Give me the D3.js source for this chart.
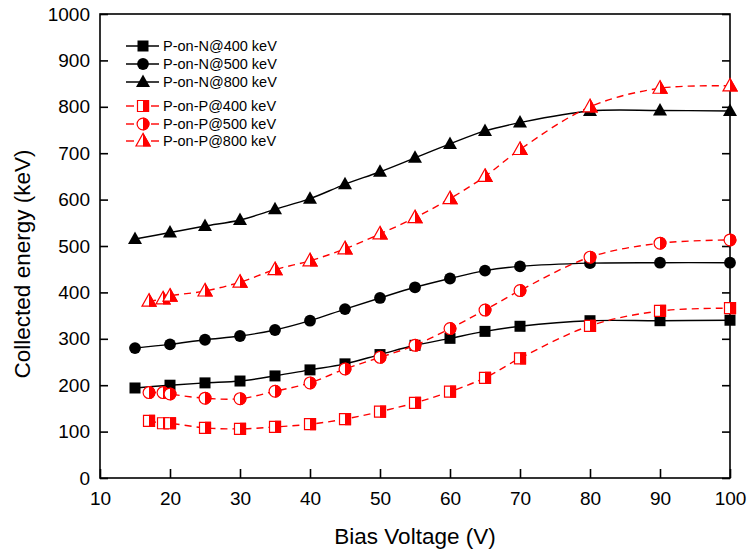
<!DOCTYPE html>
<html><head><meta charset="utf-8">
<script src="https://cdn.jsdelivr.net/npm/d3@7"></script>
<style>body{margin:0;background:#fff}svg{display:block;font-family:"Liberation Sans",Arial,sans-serif}</style>
</head><body><svg id="c" width="748" height="552"></svg>
<script>
const xN = [15,20,25,30,35,40,45,50,55,60,65,70,80,90,100];
const xP = [17,19,20,25,30,35,40,45,50,55,60,65,70,80,90,100];
const pn400 = [194,200,205,209,220,233,246,266,286,301,316,327,339,339,340];
const pn500 = [280,288,298,306,319,339,364,388,411,430,447,456,463,464,464];
const pn800 = [515,529,543,556,579,602,633,660,690,720,748,766,791,792,791];
const pp400 = [123,118,118,108,106,110,116,127,143,162,186,216,258,328,360,366];
const pp500 = [184,184,181,172,171,187,205,235,260,286,322,362,404,476,506,513];
const pp800 = [381,386,392,403,422,449,468,494,526,561,602,650,708,800,840,845];
const names = ["P-on-N@400 keV","P-on-N@500 keV","P-on-N@800 keV","P-on-P@400 keV","P-on-P@500 keV","P-on-P@800 keV"];
const xTicks = [10,20,30,40,50,60,70,80,90,100];
const yTicks = [0,100,200,300,400,500,600,700,800,900,1000];

const svg = d3.select("#c");
const L=100,R=730,T=14,B=478;
const x = d3.scaleLinear().domain([10,100]).range([L,R]);
const y = d3.scaleLinear().domain([0,1000]).range([B,T]);

const series = [
 {name:names[0], xs:xN, ys:pn400, shape:"square", red:false},
 {name:names[1], xs:xN, ys:pn500, shape:"circle", red:false},
 {name:names[2], xs:xN, ys:pn800, shape:"triangle", red:false},
 {name:names[3], xs:xP, ys:pp400, shape:"square", red:true},
 {name:names[4], xs:xP, ys:pp500, shape:"circle", red:true},
 {name:names[5], xs:xP, ys:pp800, shape:"triangle", red:true}
];

const defs = svg.append("defs");
defs.append("clipPath").attr("id","rh").append("rect").attr("x",0).attr("y",-20).attr("width",20).attr("height",40);

function marker(g, shape, red){
  const s = 11;
  let d;
  if(shape==="square") d = `M${-s/2},${-s/2}h${s}v${s}h${-s}Z`;
  else if(shape==="circle") d = d3.symbol(d3.symbolCircle, Math.PI*(s/2+0.4)*(s/2+0.4))();
  else { const h=12.5, w=14; d = `M0,${-h*0.6}L${w/2},${h*0.4}L${-w/2},${h*0.4}Z`; }
  if(!red){
    g.append("path").attr("d",d).attr("fill","#000");
  } else {
    g.append("path").attr("d",d).attr("fill","#fff").attr("stroke","#f00").attr("stroke-width",1.2);
    g.append("path").attr("d",d).attr("fill","#f00").attr("stroke","#f00").attr("stroke-width",1.2).attr("clip-path","url(#rh)");
  }
}

svg.append("rect").attr("x",L).attr("y",T).attr("width",R-L).attr("height",B-T).attr("fill","none").attr("stroke","#000").attr("stroke-width",1.6);

const gx = svg.append("g").attr("transform",`translate(0,${B})`).call(d3.axisBottom(x).tickValues(xTicks).tickSizeInner(-9).tickSizeOuter(0).tickPadding(14).tickFormat(d3.format("d")));
const gy = svg.append("g").attr("transform",`translate(${L},0)`).call(d3.axisLeft(y).tickValues(yTicks).tickSizeInner(-8).tickSizeOuter(0).tickPadding(10).tickFormat(d3.format("d")));
const gyr = svg.append("g").attr("transform",`translate(${R},0)`).call(d3.axisRight(y).tickValues(yTicks).tickSizeInner(-8).tickSizeOuter(0).tickFormat(""));
[gx,gy,gyr].forEach(g=>{g.select(".domain").remove(); g.selectAll(".tick line").attr("stroke","#000").attr("stroke-width",1.6); g.selectAll("text").attr("font-size",19).attr("fill","#000").attr("font-family","Liberation Sans, Arial, sans-serif");});
gx.selectAll("text").attr("dy","0.71em");

const line = d3.line().curve(d3.curveCatmullRom.alpha(0.5));
series.forEach(s=>{
  const pts = s.xs.map((v,i)=>[x(v),y(s.ys[i])]);
  svg.append("path").attr("d",line(pts)).attr("fill","none")
    .attr("stroke",s.red?"#f00":"#000").attr("stroke-width",1.4)
    .attr("stroke-dasharray",s.red?"7,5":null);
});
series.forEach(s=>{
  s.xs.forEach((v,i)=>{
    const g = svg.append("g").attr("transform",`translate(${x(v)},${y(s.ys[i])})`);
    marker(g,s.shape,s.red);
  });
});

const ly = [46,64,82,106,124,141];
series.forEach((s,i)=>{
  const g = svg.append("g");
  if(s.red){
    g.append("line").attr("x1",126).attr("x2",134).attr("y1",ly[i]).attr("y2",ly[i]).attr("stroke","#f00").attr("stroke-width",1.4);
    g.append("line").attr("x1",151).attr("x2",159).attr("y1",ly[i]).attr("y2",ly[i]).attr("stroke","#f00").attr("stroke-width",1.4);
  } else {
    g.append("line").attr("x1",126).attr("x2",159).attr("y1",ly[i]).attr("y2",ly[i]).attr("stroke","#000").attr("stroke-width",1.4);
  }
  marker(g.append("g").attr("transform",`translate(143,${ly[i]})`),s.shape,s.red);
  g.append("text").attr("x",163).attr("y",ly[i]).attr("dy","0.35em").attr("font-size",14.5).text(s.name);
});

svg.append("text").attr("x",(L+R)/2).attr("y",544).attr("text-anchor","middle").attr("font-size",22.5).text("Bias Voltage (V)");
svg.append("text").attr("transform",`translate(30,264) rotate(-90)`).attr("text-anchor","middle").attr("font-size",22.5).text("Collected energy (keV)");
</script></body></html>
